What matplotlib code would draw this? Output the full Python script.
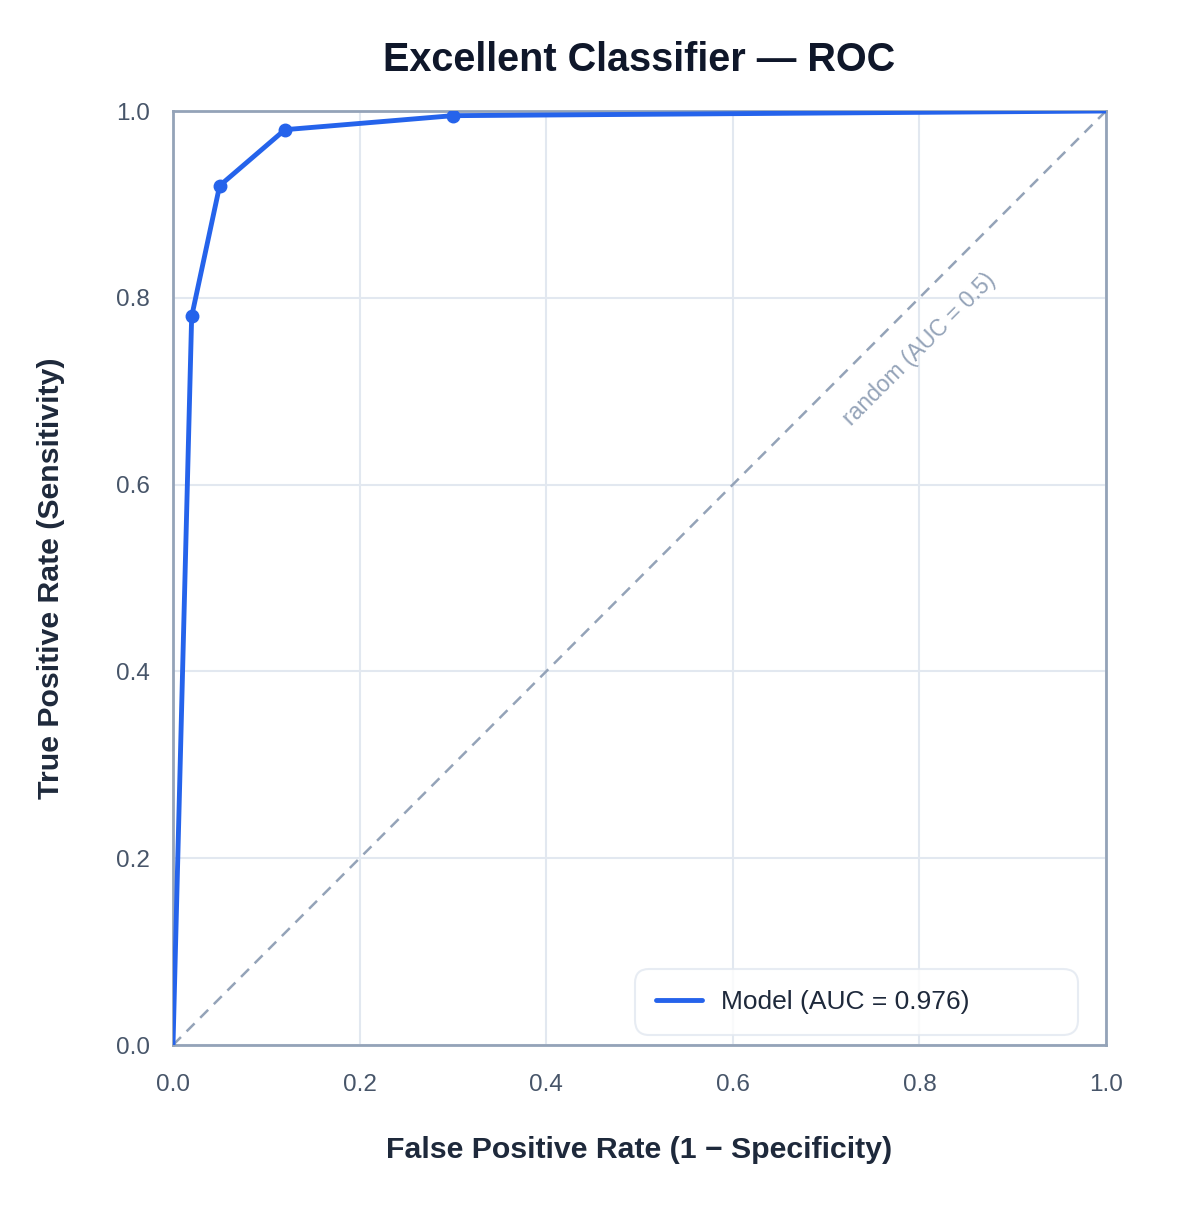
import matplotlib
matplotlib.use("Agg")
import matplotlib.pyplot as plt

plt.rcParams["font.family"] = ["Liberation Sans", "DejaVu Sans"]

# ROC curve points
fpr = [0.0, 0.02, 0.05, 0.12, 0.30, 1.0]
tpr = [0.0, 0.78, 0.92, 0.98, 0.995, 1.0]
auc_label = "Model (AUC = 0.976)"
ticks = [0.0, 0.2, 0.4, 0.6, 0.8, 1.0]

BLUE = "#2563eb"
SLATE = "#94a3b8"
GRID = "#e2e8f0"

fig = plt.figure(figsize=(12, 12.18), dpi=100)
ax = fig.add_axes([173 / 1200, 1 - 1045 / 1218, 933 / 1200, 934 / 1218])

ax.plot([0, 1], [0, 1], color=SLATE, lw=1.8, ls=(0, (4.5, 3.2)), zorder=2)
ax.plot(fpr, tpr, color=BLUE, lw=3.5, label=auc_label, zorder=3, solid_capstyle="round")
ax.plot(fpr[1:-1], tpr[1:-1], "o", color=BLUE, ms=9, zorder=4)

ax.text(0.80, 0.745, "random (AUC = 0.5)", rotation=45, rotation_mode="anchor",
        ha="center", va="center", color=SLATE, fontsize=16.5, transform=ax.transAxes)

ax.set_xlim(0, 1)
ax.set_ylim(0, 1)
ax.set_xticks(ticks)
ax.set_yticks(ticks)
ax.set_xticklabels([f"{t:.1f}" for t in ticks])
ax.set_yticklabels([f"{t:.1f}" for t in ticks])
ax.tick_params(length=0, labelsize=17.5, labelcolor="#475569")
ax.tick_params(axis="x", pad=21)
ax.tick_params(axis="y", pad=16.5)
ax.grid(True, color=GRID, lw=1.5, zorder=0)
ax.set_axisbelow(True)
for sp in ax.spines.values():
    sp.set_color(SLATE)
    sp.set_linewidth(2)

ax.set_xlabel("False Positive Rate (1 \u2212 Specificity)", fontsize=21.8, fontweight="bold",
              color="#1e293b", labelpad=29)
ax.set_ylabel("True Positive Rate (Sensitivity)", fontsize=21.8, fontweight="bold",
              color="#1e293b", labelpad=37)
ax.set_title("Excellent Classifier \u2014 ROC", fontsize=28.5, fontweight="bold",
             color="#0f172a", pad=29)

leg = ax.legend(loc="lower left", fontsize=19, frameon=True, borderpad=0.8,
                handlelength=1.75, handletextpad=0.7, borderaxespad=0,
                labelcolor="#1e293b",
                mode="expand", bbox_to_anchor=(0.495, 0.0107, 0.475, 0.074))
leg.get_frame().set_edgecolor(GRID)
leg.get_frame().set_linewidth(1.5)
leg.get_frame().set_boxstyle("round,pad=0,rounding_size=0.55")

fig.savefig("out.png", dpi=100)
